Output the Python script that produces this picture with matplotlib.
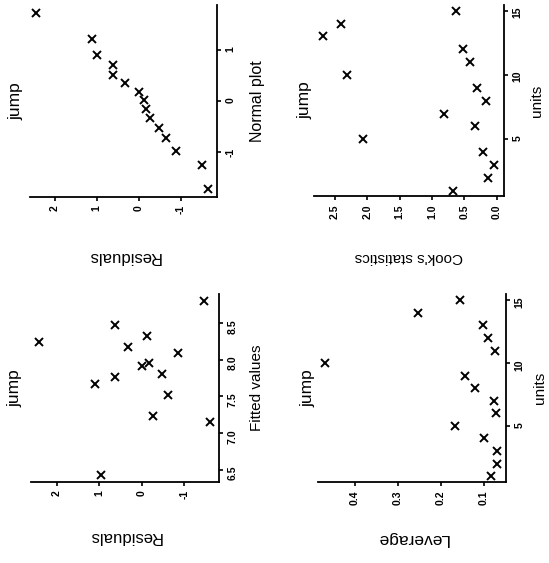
import matplotlib
matplotlib.use('Agg')
import matplotlib.pyplot as plt
from matplotlib.ticker import FormatStrFormatter

plt.rcParams['font.family'] = ['Liberation Sans', 'DejaVu Sans']

title = 'jump'

# ================= Residuals vs fitted values =======================
fitted = [8.25, 7.67, 6.43, 8.47, 7.76, 8.18, 7.92, 8.32, 7.96, 7.23, 7.80, 7.52, 8.09, 8.80, 7.15]
resid_fit = [2.43, 1.10, 0.96, 0.63, 0.63, 0.32, 0.00, -0.12, -0.16, -0.26, -0.47, -0.62, -0.86, -1.47, -1.61]

# ================= Normal plot =======================
resid_sorted = [2.45, 1.10, 0.99, 0.62, 0.60, 0.32, -0.02, -0.14, -0.18, -0.28, -0.49, -0.65, -0.89, -1.52, -1.65]
quantiles = [1.73, 1.22, 0.91, 0.71, 0.52, 0.35, 0.18, 0.02, -0.16, -0.33, -0.53, -0.72, -0.98, -1.25, -1.73]

# ================= Leverage and Cook's statistics by unit =======================
units = list(range(1, 16))
leverage = [0.082, 0.070, 0.070, 0.098, 0.166, 0.071, 0.075, 0.119, 0.144, 0.468,
            0.073, 0.091, 0.102, 0.253, 0.154]
cooks = [0.68, 0.13, 0.04, 0.22, 2.07, 0.34, 0.81, 0.17, 0.31, 2.31,
         0.42, 0.52, 2.68, 2.40, 0.63]

resid_ticks = [2, 1, 0, -1]
quant_ticks = [1, 0, -1]
fitted_ticks = [6.5, 7.0, 7.5, 8.0, 8.5]
unit_ticks = [5, 10, 15]
cook_ticks = [2.5, 2.0, 1.5, 1.0, 0.5, 0.0]
lev_ticks = [0.4, 0.3, 0.2, 0.1]

W, H = 549, 563
fig = plt.figure(figsize=(W / 100, H / 100), dpi=100)


def make_axes(px_left, px_right, px_top, px_bottom):
    ax = fig.add_axes([px_left / W, 1 - px_bottom / H,
                       (px_right - px_left) / W, (px_bottom - px_top) / H])
    ax.patch.set_alpha(0)
    for s in ['left', 'top']:
        ax.spines[s].set_visible(False)
    for s in ['bottom', 'right']:
        ax.spines[s].set_linewidth(1.3)
    ax.yaxis.tick_right()
    ax.tick_params(direction='out', length=3, width=1.2, labelsize=7.5,
                   labelrotation=90, pad=3)
    for lab in ax.get_xticklabels() + ax.get_yticklabels():
        lab.set_fontweight('bold')
    return ax


def labels(ax, xlab, ylab, xlab_pos, ylab_pos, title_pos, xsize, ysize):
    ax.text(0.5, xlab_pos, xlab, transform=ax.transAxes, rotation=180,
            ha='center', va='center', fontsize=xsize)
    ax.text(ylab_pos, 0.5, ylab, transform=ax.transAxes, rotation=90,
            ha='center', va='center', fontsize=ysize)
    ax.text(title_pos, 0.5, title, transform=ax.transAxes, rotation=90,
            ha='center', va='center', fontsize=12.5)


def points(ax, x, y):
    ax.plot(x, y, marker='x', color='black', markersize=5.5, markeredgewidth=1.4,
            linestyle='None')


# Normal plot (top left)
ax = make_axes(30, 217, 5, 197)
points(ax, resid_sorted, quantiles)
ax.set_xlim(2.59, -1.87)
ax.set_ylim(-1.88, 1.89)
ax.set_xticks(resid_ticks)
ax.set_yticks(quant_ticks)
ax.xaxis.set_major_formatter(FormatStrFormatter('%d'))
ax.yaxis.set_major_formatter(FormatStrFormatter('%d'))
labels(ax, 'Residuals', 'Normal plot', -0.31, 1.214, -0.075, 12, 11.5)

# Cook's statistics (top right)
ax = make_axes(314, 504, 5, 196)
points(ax, cooks, units)
ax.set_xlim(2.82, -0.11)
ax.set_ylim(0.59, 15.44)
ax.set_xticks(cook_ticks)
ax.set_yticks(unit_ticks)
ax.xaxis.set_major_formatter(FormatStrFormatter('%.1f'))
labels(ax, "Cook's statistics", 'units', -0.32, 1.174, -0.05, 11, 11)

# Residuals vs fitted values (bottom left)
ax = make_axes(31, 219, 294, 482)
points(ax, resid_fit, fitted)
ax.set_xlim(2.61, -1.82)
ax.set_ylim(6.33, 8.90)
ax.set_xticks(resid_ticks)
ax.set_yticks(fitted_ticks)
ax.xaxis.set_major_formatter(FormatStrFormatter('%d'))
ax.yaxis.set_major_formatter(FormatStrFormatter('%.1f'))
labels(ax, 'Residuals', 'Fitted values', -0.29, 1.20, -0.083, 12, 11)

# Leverage (bottom right)
ax = make_axes(318, 506, 294, 482)
points(ax, leverage, units)
ax.set_xlim(0.485, 0.048)
ax.set_ylim(0.53, 15.5)
ax.set_xticks(lev_ticks)
ax.set_yticks(unit_ticks)
ax.xaxis.set_major_formatter(FormatStrFormatter('%.1f'))
labels(ax, 'Leverage', 'units', -0.30, 1.18, -0.054, 12.5, 11)

fig.savefig('out.png', dpi=100)
